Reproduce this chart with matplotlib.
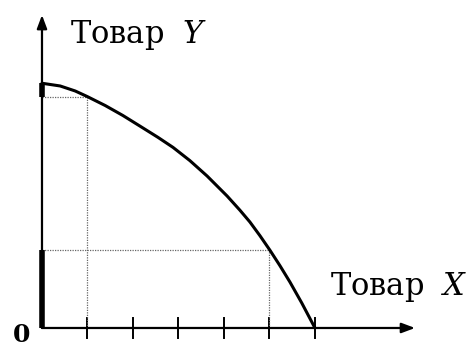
import matplotlib
matplotlib.use("Agg")
import matplotlib.pyplot as plt

plt.rcParams['font.family'] = 'DejaVu Serif'
plt.rcParams['mathtext.fontset'] = 'custom'
plt.rcParams['mathtext.rm'] = 'DejaVu Serif'
plt.rcParams['mathtext.it'] = 'DejaVu Serif:italic'

# production possibilities curve
good_x = [0.0, 0.40, 0.73, 0.99, 1.39, 1.78, 2.15, 2.55, 2.88, 3.25, 3.63,
          4.07, 4.35, 4.57, 4.79, 5.01, 5.23, 5.45, 5.71, 6.0]
good_y = [5.38, 5.32, 5.21, 5.09, 4.89, 4.67, 4.44, 4.19, 3.97, 3.68, 3.34,
          2.90, 2.59, 2.33, 2.03, 1.71, 1.37, 1.01, 0.55, 0.0]

# two marked points on the curve
point_x = [1.0, 5.0]
point_y = [5.08, 1.72]
# thick segments on the Y axis
seg_lo = [5.08, 0.0]
seg_hi = [5.38, 1.72]

ticks = [1, 2, 3, 4, 5, 6]

fig = plt.figure(figsize=(4.71, 3.47), dpi=100)
ax = fig.add_axes([0, 0, 1, 1])
ax.set_xlim(-0.923, 9.43)
ax.set_ylim(-0.418, 7.21)
ax.axis('off')

# axes with arrows
arrow = dict(arrowstyle='-|>,head_length=0.8,head_width=0.3', color='black', lw=1.6,
             shrinkA=0, shrinkB=0)
ax.annotate('', xy=(0, 6.88), xytext=(0, 0), arrowprops=arrow)
ax.annotate('', xy=(8.2, 0), xytext=(0, 0), arrowprops=arrow)

# ticks on X axis
for t in ticks:
    ax.plot([t, t], [-0.22, 0.22], color='black', lw=1.4)

# dotted guide lines
for px, py in zip(point_x, point_y):
    ax.plot([0, px], [py, py], color='#666666', lw=0.9, ls=(0, (1, 1)))
    ax.plot([px, px], [0, py], color='#666666', lw=0.9, ls=(0, (1, 1)))

# thick parts of the Y axis
for lo, hi in zip(seg_lo, seg_hi):
    ax.plot([0, 0], [lo, hi], color='black', lw=4, solid_capstyle='butt')

# the curve
ax.plot(good_x, good_y, color='black', lw=2.2, solid_capstyle='round',
        solid_joinstyle='round')

ax.text(0.615, 6.26, 'Товар  $Y$', fontsize=22, va='baseline', ha='left')
ax.text(6.33, 0.725, 'Товар  $X$', fontsize=22, va='baseline', ha='left')
ax.text(-0.46, -0.3, '0', fontsize=18, va='baseline', ha='center', fontweight='bold')

fig.savefig('out.png', dpi=100)
